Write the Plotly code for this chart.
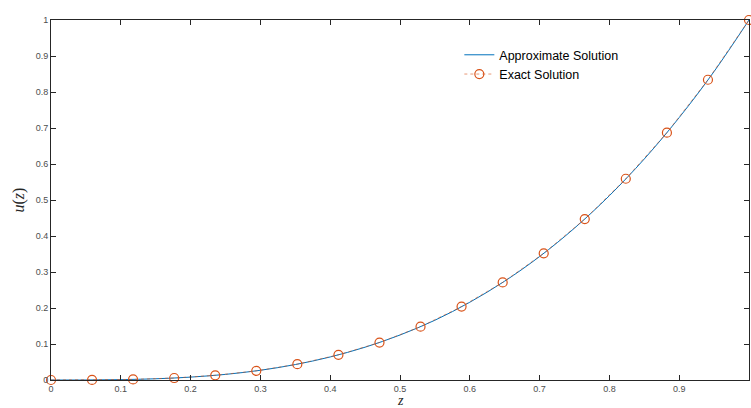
import plotly.graph_objects as go

# Exact solution samples
z_exact = [0.0, 0.0588, 0.1176, 0.1765, 0.2353, 0.2941, 0.3529, 0.4118, 0.4706,
           0.5294, 0.5882, 0.6471, 0.7059, 0.7647, 0.8235, 0.8824, 0.9412, 1.0]
u_exact = [0.0, 0.0002, 0.0016, 0.0055, 0.013, 0.0254, 0.044, 0.070, 0.104,
           0.148, 0.204, 0.271, 0.352, 0.447, 0.559, 0.687, 0.834, 1.0]

# Approximate solution curve
z_approx = [0.0, 0.05, 0.1, 0.15, 0.2, 0.25, 0.3, 0.35, 0.4, 0.45, 0.5,
            0.55, 0.6, 0.65, 0.7, 0.75, 0.8, 0.85, 0.9, 0.95, 1.0]
u_approx = [0.0, 0.0001, 0.001, 0.0034, 0.008, 0.0156, 0.027, 0.0429, 0.064, 0.0911, 0.125,
            0.166, 0.216, 0.2746, 0.343, 0.4219, 0.512, 0.614, 0.729, 0.857, 1.0]

x_ticks = [0, 0.1, 0.2, 0.3, 0.4, 0.5, 0.6, 0.7, 0.8, 0.9, 1.0]
x_ticktext = ["0", "0.1", "0.2", "0.3", "0.4", "0.5", "0.6", "0.7", "0.8", "0.9", ""]
y_ticks = [0, 0.1, 0.2, 0.3, 0.4, 0.5, 0.6, 0.7, 0.8, 0.9, 1.0]
y_ticktext = ["0", "0.1", "0.2", "0.3", "0.4", "0.5", "0.6", "0.7", "0.8", "0.9", "1"]

fig = go.Figure()
fig.add_trace(go.Scatter(
    x=z_approx, y=u_approx, mode="lines", name="Approximate Solution",
    line=dict(color="#0072BD", width=1, shape="spline"),
))
fig.add_trace(go.Scatter(
    x=z_exact, y=u_exact, mode="lines+markers", name="Exact Solution",
    line=dict(color="#D95319", width=0.6, dash="dot"),
    marker=dict(symbol="circle-open", size=9, color="#D95319", line=dict(width=1.2)),
    cliponaxis=False,
))

axis_common = dict(
    showline=True, linecolor="#262626", linewidth=1, mirror="ticks",
    ticks="inside", ticklen=5, tickcolor="#262626", tickwidth=1,
    showgrid=False, zeroline=False, automargin=False,
    tickfont=dict(family="Liberation Sans, Arial, sans-serif", size=9, color="#4d4d4d"),
)

fig.update_xaxes(range=[0, 1], tickvals=x_ticks, ticktext=x_ticktext, **axis_common)
fig.update_yaxes(range=[0, 1], tickvals=y_ticks, ticktext=y_ticktext,
                 title=dict(text="<i>u</i>(<i>z</i>)", font=dict(family="Liberation Serif, serif", size=16, color="#262626"), standoff=7),
                 **axis_common)

fig.add_annotation(text="<i>z</i>", xref="paper", yref="paper", x=0.5, y=-0.057,
                   xanchor="center", yanchor="middle", showarrow=False,
                   font=dict(family="Liberation Serif, serif", size=14, color="#262626"))

fig.update_layout(
    width=751, height=408,
    margin=dict(l=51, r=2, t=20, b=28),
    plot_bgcolor="white", paper_bgcolor="white",
    legend=dict(x=0.585, y=0.944, xanchor="left", yanchor="top",
                bgcolor="rgba(255,255,255,0)", borderwidth=0,
                font=dict(family="Liberation Sans, Arial, sans-serif", size=12.5, color="#000000"),
                itemwidth=30, tracegroupgap=0),
    showlegend=True,
)

fig.write_html("out.html", config={"displayModeBar": False},
               post_script="document.body.style.margin='0';document.body.style.overflow='hidden';")
